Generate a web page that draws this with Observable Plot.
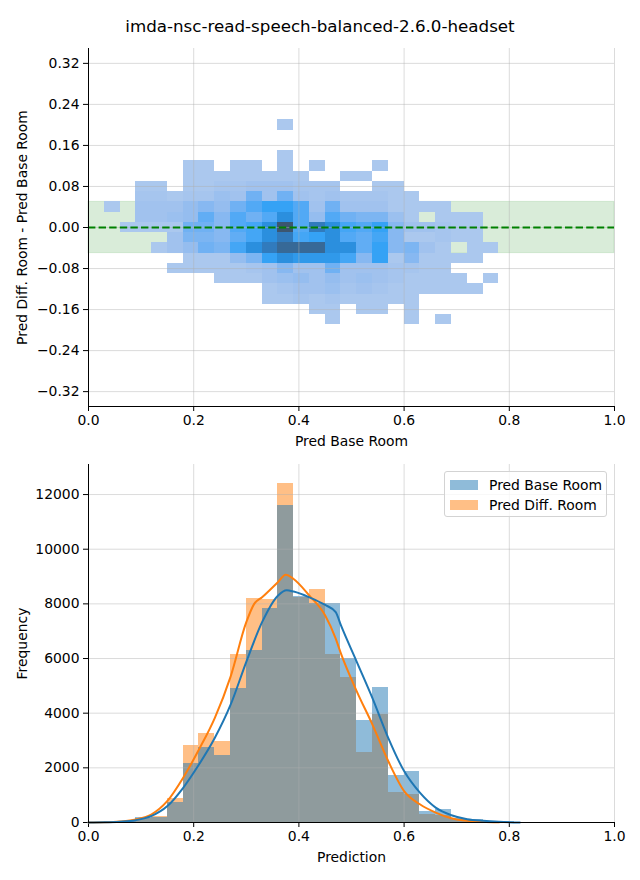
<!DOCTYPE html>
<html>
<head>
<meta charset="utf-8">
<script src="https://cdn.jsdelivr.net/npm/d3@7"></script>
<script src="https://cdn.jsdelivr.net/npm/@observablehq/plot@0.6"></script>
<style>
  body { margin: 0; background: #fff; font-family: "DejaVu Sans", sans-serif; }
  #wrap { position: relative; width: 640px; height: 880px; overflow: hidden; }
  #title { position: absolute; left: 0; top: 0; width: 640px; height: 52px; line-height: 52px; text-align: center; font-size: 16.7px; color: #000; }
  #top { position: absolute; left: 0; top: 48px; }
  #bottom { position: absolute; left: 0; top: 450px; }
  #legend { position: absolute; left: 444px; top: 471px; width: 163px; height: 46px; box-sizing: border-box;
            border: 1px solid #d3d3d3; border-radius: 3px; background: rgba(255,255,255,0.8); font-size: 13.9px; }
  .row { position: absolute; left: 5px; height: 16px; line-height: 16px; white-space: nowrap; }
  .sw { display: inline-block; width: 28px; height: 10px; vertical-align: middle; margin-right: 11px; position: relative; top: -1px; }
</style>
</head>
<body>
<div id="wrap">
  <div id="title"></div>
  <div id="top"></div>
  <div id="bottom"></div>
  <div id="legend"></div>
</div>
<script>
// ---------- text ----------
const chartTitle = "imda-nsc-read-speech-balanced-2.6.0-headset";
const topXLabel = "Pred Base Room";
const topYLabel = "Pred Diff. Room - Pred Base Room";
const bottomXLabel = "Prediction";
const bottomYLabel = "Frequency";
const seriesNames = ["Pred Base Room", "Pred Diff. Room"];

// ---------- top panel: 2D histogram ----------
const topXTicks = [0, 0.2, 0.4, 0.6, 0.8, 1.0];
const topYTicks = [-0.32, -0.24, -0.16, -0.08, 0, 0.08, 0.16, 0.24, 0.32];
const topYDomain = [-0.349, 0.349];
const bandLimits = [-0.05, 0.05];
const refLine = [0];
const heatBinW = 0.03;
const heatBinH = 0.02;
const heatX = [0.03, 0.06, 0.09, 0.12, 0.15, 0.18, 0.21, 0.24, 0.27, 0.30, 0.33, 0.36, 0.39,
               0.42, 0.45, 0.48, 0.51, 0.54, 0.57, 0.60, 0.63, 0.66, 0.69, 0.72, 0.75];
const heatY = [0.20, 0.18, 0.16, 0.14, 0.12, 0.10, 0.08, 0.06, 0.04, 0.02, 0.00,
               -0.02, -0.04, -0.06, -0.08, -0.10, -0.12, -0.14, -0.16, -0.18];
// relative density level per cell (0 = empty)
const heatLevels = [
  [0,0,0,0,0,0,0,0,0,0,0,1,0,0,0,0,0,0,0,0,0,0,0,0,0],
  [0,0,0,0,0,0,0,0,0,0,0,0,0,0,0,0,0,0,0,0,0,0,0,0,0],
  [0,0,0,0,0,0,0,0,0,0,0,0,0,0,0,0,0,0,0,0,0,0,0,0,0],
  [0,0,0,0,0,0,0,0,0,0,0,1,0,0,0,0,0,0,0,0,0,0,0,0,0],
  [0,0,0,0,0,1,1,0,1,1,0,1,0,1,0,0,0,1,0,0,0,0,0,0,0],
  [0,0,0,0,0,1,1,1,1,1,1,1,1,0,0,1,1,0,0,0,0,0,0,0,0],
  [0,0,1,1,0,1,1,1.5,1.5,2,2,2,1.5,1.5,1.5,0,0,1,1,0,0,0,0,0,0],
  [0,0,1.5,1.5,1,1.5,1.5,2.5,2,5,2,5,2,1.5,2,1.5,1.5,1.5,1,1,0,0,0,0,0],
  [1,0,2,2,2,3,4,3,5,6,7,7,6,2,5,2,2,2,1,1,1,1,0,0,0],
  [0,0,2,2,2.5,3,5.5,4,6,5,6,8,6,3,6,5,4.5,4.5,2.5,1,0,1,1,1,0],
  [0,1,1,1,1,5,5,4,6,6.5,8,10,6,9,8,6.5,6,7,4,2,2,1.5,1,1,0],
  [0,0,0,0,2,4.5,4.5,4,5.5,6.5,8,9,6.5,7,8,6,5.5,6.5,4,1,1,1.5,1,1,0],
  [0,0,0,1,2,3,5,4.5,6.5,8,9,9.5,9.5,9.5,8,8,5.5,7,4,4.5,2,1,0,1,1],
  [0,0,0,0,0,1,1,1,3,4.5,7,8,7.5,7.5,7.5,6.5,4,7,1,4,1,1,1,1,0],
  [0,0,0,0,1,1,1,1,1,1.5,2,4,2,2,5,2,2,2,1.5,1.5,1,1,0,0,0],
  [0,0,0,0,0,0,0,1,1,1,2,2.5,3,2,3,2,2.5,2,1.5,1,1,1,1,0,1],
  [0,0,0,0,0,0,0,0,0,0,1,1.5,2,2,2.5,1.5,2,1.5,1,1,1,1,1,1,0],
  [0,0,0,0,0,0,0,0,0,0,1,1,1.5,1,1.5,1,1,1,1,1,0,0,0,0,0],
  [0,0,0,0,0,0,0,0,0,0,0,0,0,1,1,0,1,1,0,1,0,0,0,0,0],
  [0,0,0,0,0,0,0,0,0,0,0,0,0,0,1,0,0,0,0,1,0,1,0,0,0]
];
const heatColors = ["#abc8ee", "#a1c2ee", "#95bdef", "#87b8f1", "#70b1f3",
                    "#52a9f5", "#35a2f5", "#2b8fde", "#317bbd", "#3c5670"];

// ---------- bottom panel: histograms + KDE ----------
const bottomXTicks = [0, 0.2, 0.4, 0.6, 0.8, 1.0];
const bottomYTicks = [0, 2000, 4000, 6000, 8000, 10000, 12000];
const bottomYDomain = [0, 13100];
const histBinW = 0.03;
const histLeft = [0.00, 0.03, 0.06, 0.09, 0.12, 0.15, 0.18, 0.21, 0.24, 0.27, 0.30, 0.33, 0.36, 0.39,
                  0.42, 0.45, 0.48, 0.51, 0.54, 0.57, 0.60, 0.63, 0.66, 0.69, 0.72, 0.75, 0.78, 0.81];
const histBase = [10, 20, 50, 190, 180, 750, 2170, 2730, 2460, 4900, 6280, 7840, 11590, 8280,
                  8000, 8020, 6000, 3730, 4930, 1730, 1880, 400, 490, 150, 100, 40, 30, 5];
const histDiff = [10, 15, 40, 150, 230, 885, 2820, 3260, 2970, 6130, 8200, 8170, 12390, 8250,
                  8530, 6150, 5300, 2570, 3960, 1080, 1030, 300, 250, 120, 60, 25, 10, 0];
const kdeBaseX = [0.00, 0.03, 0.06, 0.09, 0.12, 0.15, 0.18, 0.21, 0.24, 0.27, 0.30, 0.33, 0.36, 0.377,
                  0.39, 0.42, 0.45, 0.47, 0.48, 0.51, 0.54, 0.57, 0.60, 0.63, 0.66, 0.69, 0.72, 0.75, 0.78, 0.82];
const kdeBaseY = [2, 8, 30, 85, 240, 600, 1270, 2120, 3090, 4300, 5880, 7330, 8300, 8500,
                  8450, 8240, 7960, 7700, 7210, 5880, 4545, 3090, 1880, 1090, 545, 267, 121, 60, 24, 3];
const kdeDiffX = [0.00, 0.03, 0.06, 0.09, 0.12, 0.15, 0.18, 0.21, 0.24, 0.27, 0.30, 0.315, 0.33, 0.36, 0.375,
                  0.39, 0.42, 0.45, 0.47, 0.48, 0.51, 0.54, 0.57, 0.60, 0.63, 0.66, 0.69, 0.72, 0.75, 0.78];
const kdeDiffY = [2, 8, 35, 110, 300, 790, 1640, 2670, 3820, 5330, 7330, 8000, 8240, 8790, 9070,
                  8910, 8300, 7575, 6730, 6180, 4800, 3575, 2240, 1150, 667, 364, 158, 60, 24, 5];
const colorBase = "#1f77b4";
const colorDiff = "#ff7f0e";

// ---------- build ----------
document.getElementById("title").textContent = chartTitle;

const heatCells = heatY.flatMap((y, r) => heatX.map((x, c) => ({x, y, v: heatLevels[r][c]})))
  .filter(d => d.v > 0);

const fontStyle = {fontFamily: "DejaVu Sans, sans-serif", fontSize: "13.9px", background: "transparent", overflow: "visible", color: "#000"};
const gridStroke = {stroke: "#b0b0b0", strokeOpacity: 0.45, strokeWidth: 1};

const topPlot = Plot.plot({
  width: 640, height: 402,
  marginTop: 0, marginBottom: 44, marginLeft: 88, marginRight: 26,
  style: fontStyle,
  x: {domain: [0, 1], ticks: topXTicks, tickFormat: d3.format(".1f"), tickSize: 5, tickPadding: 4, label: null},
  y: {domain: topYDomain, ticks: topYTicks, tickFormat: d3.format(".2f"), tickSize: 5, tickPadding: 4, label: null},
  color: {type: "linear", domain: [1, 10], interpolate: d3.piecewise(d3.interpolateRgb, heatColors)},
  marks: [
    Plot.rect([bandLimits], {x1: 0, x2: 1, y1: d => d[0], y2: d => d[1], fill: "#008000", fillOpacity: 0.15, stroke: "#008000", strokeOpacity: 0.12}),
    Plot.rect(heatCells, {x1: d => d.x, x2: d => d.x + heatBinW, y1: d => d.y - heatBinH / 2, y2: d => d.y + heatBinH / 2,
                          fill: "v", shapeRendering: "crispEdges"}),
    Plot.ruleX(topXTicks.slice(1), {...gridStroke}),
    Plot.ruleY(topYTicks, {...gridStroke}),
    Plot.ruleY(refLine, {stroke: "#008000", strokeWidth: 2, strokeDasharray: "7.4,3.2"}),
    Plot.ruleX([0], {stroke: "#000", strokeWidth: 1}),
    Plot.ruleY([topYDomain[0]], {stroke: "#000", strokeWidth: 1}),
    Plot.text([topXLabel], {frameAnchor: "bottom", dy: 35, text: d => d, lineAnchor: "middle", fontSize: 13.9}),
    Plot.text([topYLabel], {frameAnchor: "left", dx: -66, rotate: -90, text: d => d, textAnchor: "middle", lineAnchor: "middle", fontSize: 13.9})
  ]
});
document.getElementById("top").appendChild(topPlot);

const histTable = histLeft.map((x, i) => ({x1: x, x2: x + histBinW, base: histBase[i], diff: histDiff[i]}));
const kdeBase = kdeBaseX.map((x, i) => ({x, y: kdeBaseY[i]}));
const kdeDiff = kdeDiffX.map((x, i) => ({x, y: kdeDiffY[i]}));

const bottomPlot = Plot.plot({
  width: 640, height: 430,
  marginTop: 14, marginBottom: 58, marginLeft: 88, marginRight: 26,
  style: fontStyle,
  x: {domain: [0, 1], ticks: bottomXTicks, tickFormat: d3.format(".1f"), tickSize: 5, tickPadding: 4, label: null},
  y: {domain: bottomYDomain, ticks: bottomYTicks, tickFormat: d3.format("d"), tickSize: 5, tickPadding: 4, label: null},
  marks: [
    Plot.rectY(histTable, {x1: "x1", x2: "x2", y: "diff", fill: colorDiff, fillOpacity: 0.5, shapeRendering: "crispEdges"}),
    Plot.rectY(histTable, {x1: "x1", x2: "x2", y: "base", fill: colorBase, fillOpacity: 0.5, shapeRendering: "crispEdges"}),
    Plot.ruleX(bottomXTicks.slice(1), {...gridStroke}),
    Plot.ruleY(bottomYTicks.slice(1), {...gridStroke}),
    Plot.line(kdeDiff, {x: "x", y: "y", stroke: colorDiff, strokeWidth: 2, curve: "monotone-x"}),
    Plot.line(kdeBase, {x: "x", y: "y", stroke: colorBase, strokeWidth: 2, curve: "monotone-x"}),
    Plot.ruleX([0], {stroke: "#000", strokeWidth: 1}),
    Plot.ruleY([0], {stroke: "#000", strokeWidth: 1}),
    Plot.text([bottomXLabel], {frameAnchor: "bottom", dy: 35, text: d => d, lineAnchor: "middle", fontSize: 13.9}),
    Plot.text([bottomYLabel], {frameAnchor: "left", dx: -66, rotate: -90, text: d => d, textAnchor: "middle", lineAnchor: "middle", fontSize: 13.9})
  ]
});
document.getElementById("bottom").appendChild(bottomPlot);

// legend
const legend = document.getElementById("legend");
[[seriesNames[0], colorBase], [seriesNames[1], colorDiff]].forEach(([name, c], i) => {
  const row = document.createElement("div");
  row.className = "row";
  row.style.top = (5 + i * 20) + "px";
  const sw = document.createElement("span");
  sw.className = "sw";
  sw.style.background = c;
  sw.style.opacity = 0.5;
  row.appendChild(sw);
  row.appendChild(document.createTextNode(name));
  legend.appendChild(row);
});
</script>
</body>
</html>
